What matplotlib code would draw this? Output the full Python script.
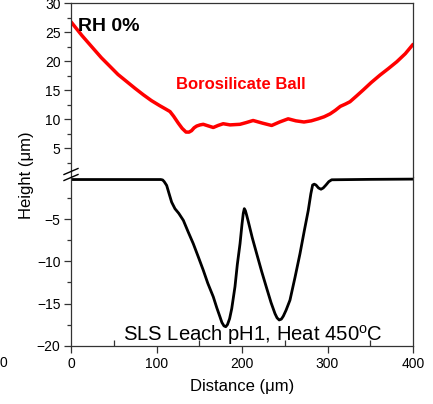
import matplotlib
matplotlib.use("Agg")
import matplotlib.pyplot as plt
from matplotlib.lines import Line2D
import numpy as np

plt.rcParams['font.family'] = ['Liberation Sans', 'DejaVu Sans']

# Borosilicate ball profile (upper panel)
ball_x = [0, 13, 26, 35.5, 45.6, 55, 65, 75, 84.6, 94, 104, 110, 115.8, 120,
          125.5, 130, 134.5, 138, 141, 144, 147, 151, 154.7, 160, 166.4, 172,
          178, 186, 197.6, 205, 213, 224, 234.7, 244, 254, 263, 272.5, 281,
          289, 296, 303, 309, 315, 321, 326.3, 334, 341.9, 351, 361.4, 371,
          381, 391, 400]
ball_y = [26.8, 24.4, 22.2, 20.6, 19.1, 17.7, 16.5, 15.3, 14.2, 13.2, 12.3,
          11.8, 11.3, 10.5, 9.3, 8.4, 7.76, 7.75, 8.0, 8.5, 8.8, 9.0, 9.1, 8.85,
          8.55, 8.9, 9.2, 9.0, 9.1, 9.4, 9.76, 9.3, 8.9, 9.5, 10.05, 9.7, 9.5,
          9.7, 10.05, 10.4, 10.9, 11.5, 12.2, 12.6, 13.0, 14.0, 15.05, 16.3,
          17.6, 18.7, 19.9, 21.3, 22.9]

# Leached surface profile (lower panel)
surf_x = [0, 50, 105, 107.2, 109, 111.9, 114.5, 117.7, 121.6, 126, 131.4, 137,
          143, 149, 154.7, 160, 166.4, 170.5, 174.3, 176.5, 178.9, 181, 183,
          185.5, 188, 191.8, 194.5, 197.7, 200, 201.5, 202.7, 204, 205.5,
          207.4, 212, 217.2, 223, 228.9, 234, 238.6, 241, 243.5, 246, 248.3,
          251.5, 256.1, 262, 267.8, 273, 277.5, 280.5, 282.6, 284.5, 286.5,
          289.5, 292.4, 295, 298.2, 301.5, 304.9, 350, 400]
surf_y = [-0.3, -0.3, -0.3, -0.35, -0.55, -1.0, -1.9, -2.98, -3.76, -4.3,
          -5.14, -6.5, -7.9, -9.5, -11.05, -12.6, -14.2, -15.5, -16.6, -17.25,
          -17.65, -17.75, -17.5, -16.8, -15.6, -13.0, -10.4, -7.9, -5.6, -4.3,
          -3.75, -4.0, -4.55, -5.3, -7.2, -9.1, -11.2, -13.2, -14.9, -16.2,
          -16.7, -16.95, -16.85, -16.5, -15.8, -14.6, -11.9, -9.1, -6.3,
          -3.96, -2.0, -0.95, -0.85, -0.95, -1.3, -1.45, -1.3, -0.95, -0.55,
          -0.33, -0.28, -0.25]

top_yticks = [5, 10, 15, 20, 25, 30]
bot_yticks = [-20, -15, -10, -5]
xticks = [0, 100, 200, 300, 400]

W, H = 433, 404
fig = plt.figure(figsize=(W / 100, H / 100), dpi=100)

left, right = 71 / W, 413 / W
y_split = 1 - 177 / H
y_top = 1 - 3.3 / H
y_bot = 1 - 345.7 / H

ax_top = fig.add_axes([left, y_split, right - left, y_top - y_split])
ax_bot = fig.add_axes([left, y_bot, right - left, y_split - y_bot], sharex=ax_top)

ax_top.plot(ball_x, ball_y, color='#ff0000', lw=2.5, solid_joinstyle='round',
            solid_capstyle='round')
ax_bot.plot(surf_x, surf_y, color='black', lw=2.0, solid_joinstyle='round',
            solid_capstyle='round')

ax_top.set_xlim(0, 400)
ax_top.set_ylim(0, 30)
ax_bot.set_ylim(-20, 0)

spine_col = '#333333'
for ax in (ax_top, ax_bot):
    for s in ax.spines.values():
        s.set_color(spine_col)
        s.set_linewidth(0.9)
    ax.tick_params(axis='y', which='major', direction='out', length=5,
                   width=0.9, color=spine_col, labelsize=10, pad=2.5, right=False)
    ax.tick_params(axis='y', which='minor', direction='out', length=3,
                   width=0.9, color=spine_col, right=False)

ax_top.spines['bottom'].set_visible(False)
ax_bot.spines['top'].set_visible(False)

ax_top.set_yticks(top_yticks)
ax_top.set_yticks(np.arange(2.5, 30, 5), minor=True)
ax_top.tick_params(axis='x', which='both', bottom=False, top=False, labelbottom=False)

ax_bot.set_yticks(bot_yticks)
ax_bot.set_yticks(np.arange(-17.5, 0, 5), minor=True)
ax_bot.set_xticks(xticks)
ax_bot.set_xticks([50, 150, 250, 350], minor=True)
ax_bot.tick_params(axis='x', which='major', direction='out', length=5,
                   width=0.9, color=spine_col, labelsize=10, pad=3, top=False)
ax_bot.tick_params(axis='x', which='minor', direction='in', length=4,
                   width=0.9, color=spine_col, top=False)

ax_bot.set_xlabel('Distance (\u03bcm)', fontsize=12, labelpad=6)
fig.text(27 / W, 1 - 175 / H, 'Height (\u03bcm)', rotation=90, fontsize=12,
         ha='center', va='center')

# Axis break marks on the left spine
for yc in (171.5, 177.5):
    fig.add_artist(Line2D([64 / W, 78 / W], [1 - (yc + 3) / H, 1 - (yc - 3) / H],
                          color='black', lw=1.0))

ax_top.text(8, 26.0, 'RH 0%', fontsize=14, fontweight='bold', ha='left', va='center')
ax_top.text(123, 16.0, 'Borosilicate Ball', fontsize=12, fontweight='bold',
            color='#ff0000', ha='left', va='center')
ax_bot.text(61, -18.7, 'SLS Leach pH1, Heat 450$^{\\mathregular{o}}$C', fontsize=14.6,
            ha='left', va='center')

fig.text(3 / W, 1 - 363 / H, '0', fontsize=10, ha='center', va='center')

fig.savefig('out.png', dpi=100)
